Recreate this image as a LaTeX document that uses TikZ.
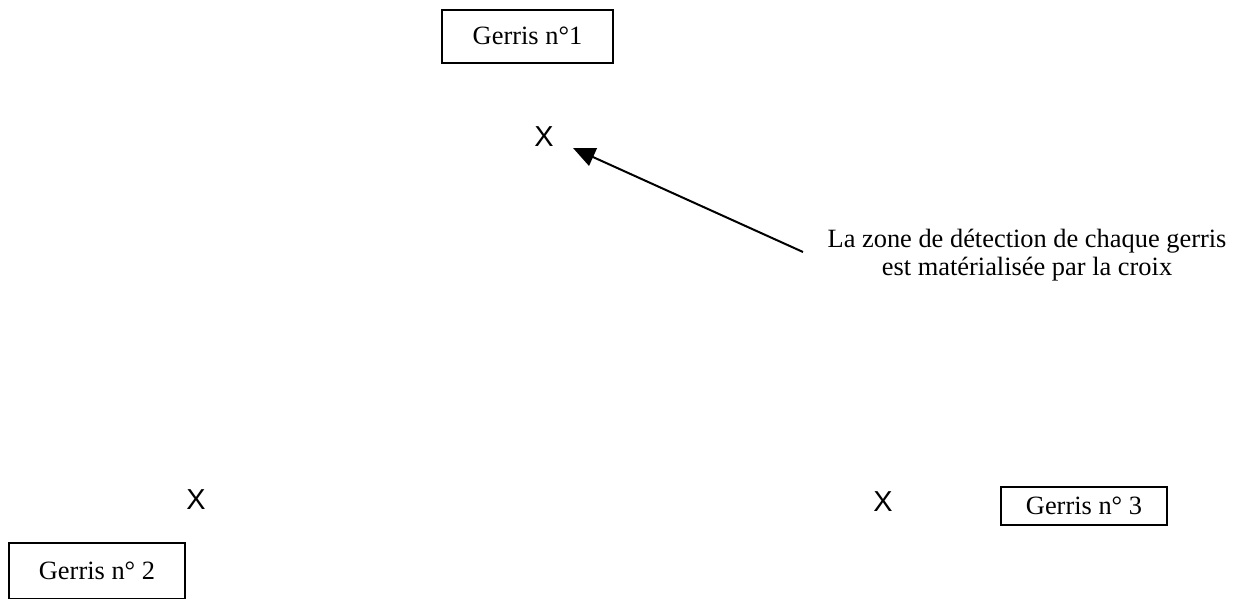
\documentclass[tikz,border=0pt]{standalone}
\usepackage{fontspec}
\setmainfont{Liberation Serif}
\newfontfamily\crossfont{Liberation Sans}
\usetikzlibrary{arrows.meta}
\begin{document}
\begin{tikzpicture}[x=1bp,y=-1bp,
  gbox/.style={draw,line width=1.8bp,inner sep=0pt,text height=17bp,text depth=0bp,font=\fontsize{26.5}{30}\selectfont},
  cross/.style={inner sep=0pt,font=\crossfont\fontsize{29}{30}\selectfont},
  note/.style={align=center,inner sep=0pt,anchor=base,font=\fontsize{26.5}{28.5}\selectfont},
  pointer/.style={line width=2bp,-{Triangle[length=22bp,width=19bp]}}]
\useasboundingbox (0,0) rectangle (1243,599);
\node[gbox,minimum width=171bp,minimum height=53bp] (g1) at (527.5,36.5) {Gerris n°1};
\node[gbox,minimum width=166bp,minimum height=38bp] (g3) at (1084,506) {Gerris n° 3};
\node[gbox,minimum width=176bp,minimum height=56bp] (g2) at (97,571) {Gerris n° 2};
\node[cross] (x1) at (544,137) {X};
\node[cross] (x2) at (196,500) {X};
\node[cross] (x3) at (883,502) {X};
\node[note] (t) at (1027,276) {La zone de détection de chaque gerris\\est matérialisée par la croix};
\coordinate (tip) at (573,148);
\coordinate (tail) at (803,252);
\draw[pointer] (tail) -- (tip);
\end{tikzpicture}
\end{document}
